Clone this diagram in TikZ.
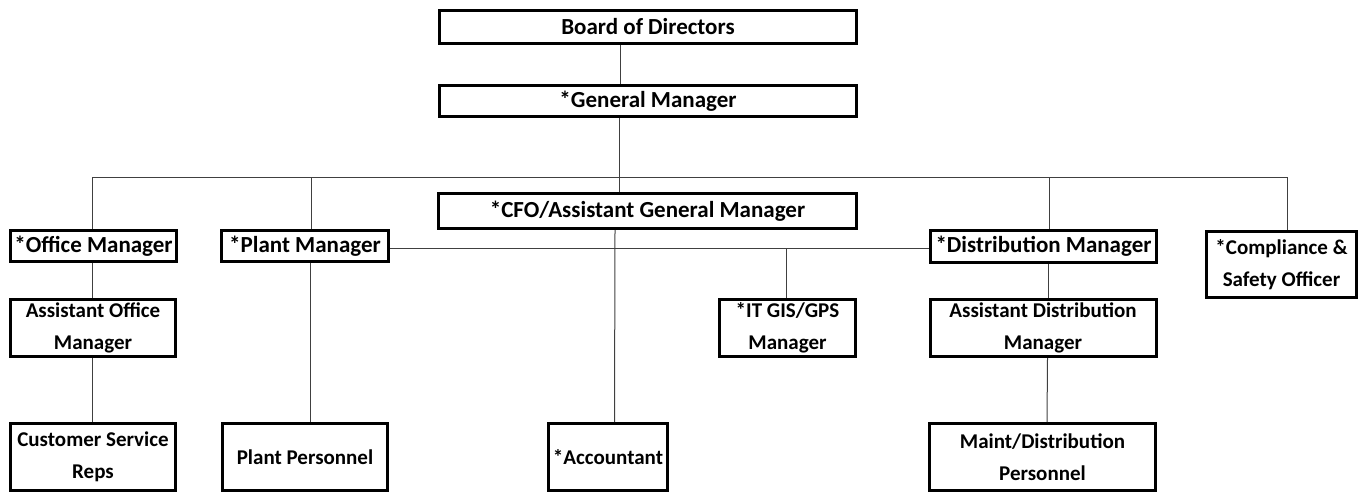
\documentclass[tikz,border=0pt]{standalone}
\usepackage{fontspec}
\setmainfont{Carlito}
\begin{document}
\begin{tikzpicture}[x=1pt,y=-1pt,
  box/.style={draw=black, line width=3pt, inner sep=0pt, align=center, fill=white,
    font=\fontsize{21}{32}\selectfont\bfseries},
  bigbox/.style={box, font=\fontsize{23}{32}\selectfont\bfseries},
  conn/.style={draw=black!75, line width=1pt}]
\useasboundingbox (0,0) rectangle (1367,493);
% boxes (outer size minus border width)
\node[bigbox, minimum width=417, minimum height=33] (board) at (648,27) {Board of Directors};
\node[bigbox, minimum width=417, minimum height=31] (gm) at (648,101) {*General Manager};
\node[bigbox, minimum width=418, minimum height=35] (cfo) at (647.5,211) {*CFO/Assistant General Manager};
\node[bigbox, minimum width=166, minimum height=31] (office) at (93.5,246) {*Office Manager};
\node[bigbox, minimum width=167, minimum height=31] (plant) at (305,246) {*Plant Manager};
\node[bigbox, minimum width=226, minimum height=32] (dist) at (1043.5,246.5) {*Distribution Manager};
\node[box, minimum width=150, minimum height=66] (comp) at (1281.5,264.5) {*Compliance \&\\Safety Officer};
\node[box, minimum width=165, minimum height=57] (asstoff) at (93,328) {Assistant Office\\Manager};
\node[box, minimum width=136, minimum height=57] (it) at (787.5,328) {*IT GIS/GPS\\Manager};
\node[box, minimum width=226, minimum height=57] (asstdist) at (1043,328) {Assistant Distribution\\Manager};
\node[box, minimum width=165, minimum height=67] (csr) at (93,457) {Customer Service\\Reps};
\node[box, minimum width=165, minimum height=67] (pp) at (305,457) {Plant Personnel};
\node[box, minimum width=119, minimum height=67] (acc) at (608,457) {*Accountant};
\node[box, minimum width=226, minimum height=67] (maint) at (1042.5,457) {Maint/Distribution\\Personnel};
% bar coordinates
\coordinate (tl) at (92,177);
\coordinate (tr) at (1287,177);
\coordinate (mb) at (0,248);
\begin{scope}[on background layer/.try]
\draw[conn] ([xshift=-28]board.south) -- ([xshift=-28]gm.north);
\draw[conn] ([xshift=-28.5]gm.south) -- ([xshift=-28.5]gm.south |- tl);
\draw[conn] ([xshift=-1.5]office.north) -- ([xshift=-1.5]office.north |- tl) -- (tr) -- ([xshift=5.5]comp.north);
\draw[conn] ([xshift=6]plant.north) -- ([xshift=6]plant.north |- tl);
\draw[conn] ([xshift=-28.5]cfo.north) -- ([xshift=-28.5]cfo.north |- tl);
\draw[conn] ([xshift=5.5]dist.north) -- ([xshift=5.5]dist.north |- tl);
% office column
\draw[conn] ([xshift=-1.5]office.south) -- ([xshift=-1]asstoff.north);
\draw[conn] ([xshift=-1]asstoff.south) -- ([xshift=-1]csr.north);
% plant column
\draw[conn] ([xshift=5.5]plant.south) -- ([xshift=5.5]pp.north);
% middle bar
\draw[conn] (plant.east |- mb) -- (dist.west |- mb);
\draw[conn] ([xshift=-1.5]it.north) -- ([xshift=-1.5]it.north |- mb);
% cfo to accountant
\draw[conn] ([xshift=-32.5]cfo.south) -- ([xshift=6.5]acc.north);
% distribution column
\draw[conn] ([xshift=5]dist.south) -- ([xshift=5.5]asstdist.north);
\draw[conn] ([xshift=4.5]asstdist.south) -- ([xshift=4.5]maint.north);
\end{scope}
\end{tikzpicture}
\end{document}
